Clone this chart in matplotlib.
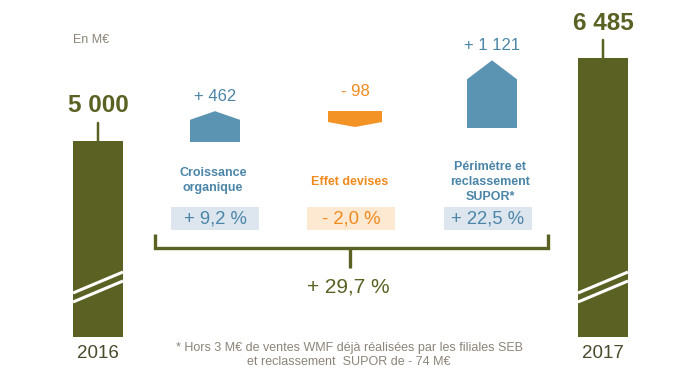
import matplotlib
matplotlib.use("Agg")
import matplotlib.pyplot as plt
from matplotlib.patches import Polygon, Rectangle

plt.rcParams['font.family'] = ['Liberation Sans', 'DejaVu Sans']

# ---- data ----
years = ["2016", "2017"]
totals = [5000, 6485]
step_labels = ["Croissance\norganique", "Effet devises", "Périmètre et\nreclassement\nSUPOR*"]
step_values = [462, -98, 1121]
step_pcts = ["+ 9,2 %", "- 2,0 %", "+ 22,5 %"]
total_growth = "+ 29,7 %"
unit_label = "En M€"
footnote = "* Hors 3 M€ de ventes WMF déjà réalisées par les filiales SEB\net reclassement  SUPOR de - 74 M€"

# ---- styles ----
OLIVE = '#5b6123'
BLUE = '#5b93b3'
BLUE_TXT = '#4b85a8'
ORANGE = '#f39325'
ORANGE_TXT = '#f08a1d'
BLUE_BOX = '#dde6ee'
ORANGE_BOX = '#fde8d2'
GRAY = '#8c8478'
YEAR_TXT = '#4a4a2c'

W, H = 700, 377
fig = plt.figure(figsize=(W / 100, H / 100), dpi=100)

# value axes for the bars (broken bars: base value hidden)
px_per_val = 83 / 1485
a_off = 141 + 5000 * px_per_val
base = (a_off - 337) / px_per_val
axv = fig.add_axes([0, 0, 1, 1])
axv.set_xlim(0, W)
axv.set_ylim((a_off - H) / px_per_val, a_off / px_per_val)
axv.axis('off')

# layout axes in pixel units (on top)
ax = fig.add_axes([0, 0, 1, 1])
ax.set_xlim(0, W)
ax.set_ylim(H, 0)
ax.axis('off')
ax.patch.set_alpha(0)

bar_x = [98, 603]
bars = axv.bar(bar_x, [v - base for v in totals], bottom=base, width=50, color=OLIVE, zorder=2)
for x, v, yl in zip(bar_x, totals, years):
    axv.annotate('', xy=(x, v), xytext=(x, v + 18 / px_per_val),
                 arrowprops=dict(arrowstyle='-', color=OLIVE, lw=1.8, shrinkA=0, shrinkB=0))
    axv.annotate(f"{v:,}".replace(',', ' '), xy=(x, v), xytext=(0, 35),
                 textcoords='offset pixels', ha='center', va='center',
                 fontsize=17.5, fontweight='bold', color=OLIVE)
    ax.text(x, 353, yl, ha='center', va='center', fontsize=13.5, color=YEAR_TXT)

# break marks (white diagonal lines)
for x in bar_x:
    for dy in (0, 9):
        ax.plot([x - 25, x + 25], [293 + dy, 272 + dy], color='white', lw=2.2,
                solid_capstyle='butt', zorder=5)

ax.text(73, 40, unit_label, ha='left', va='center', fontsize=9, color=GRAY)

# step shapes
centers = [215, 355, 492]
anchors = [142, 111, 128]   # bottom for positive, top for negative
widths = [50, 54, 50]
for cx, anc, w, v in zip(centers, anchors, widths, step_values):
    h = max(16, abs(v) * px_per_val + 5)
    tip = 0.28 * h
    hw = w / 2
    if v >= 0:
        pts = [(cx - hw, anc), (cx + hw, anc), (cx + hw, anc - h + tip), (cx, anc - h),
               (cx - hw, anc - h + tip)]
        top = anc - h
        col, tcol = BLUE, BLUE_TXT
        sign = '+ '
    else:
        tip = 0.31 * h
        pts = [(cx - hw, anc), (cx + hw, anc), (cx + hw, anc + h - tip), (cx, anc + h),
               (cx - hw, anc + h - tip)]
        top = anc
        col, tcol = ORANGE, ORANGE_TXT
        sign = '- '
    ax.add_patch(Polygon(pts, closed=True, facecolor=col, edgecolor='none', zorder=3))
    ax.text(cx, top - (19 if v < 0 else 15), sign + f"{abs(v):,}".replace(',', ' '),
            ha='center', va='center', fontsize=12, color=tcol)

# category labels and percentage boxes
lab_x = [213, 350, 490]
lab_y = [180.5, 182, 182]
box_x = [215, 351, 488]
for lx, ly, bx, lab, pct, v in zip(lab_x, lab_y, box_x, step_labels, step_pcts, step_values):
    tcol = BLUE_TXT if v >= 0 else ORANGE_TXT
    bcol = BLUE_BOX if v >= 0 else ORANGE_BOX
    ax.text(lx, ly, lab, ha='center', va='center', fontsize=9, fontweight='bold',
            color=tcol, linespacing=1.35)
    ax.add_patch(Rectangle((bx - 44, 207), 88, 23, facecolor=bcol, edgecolor='none', zorder=1))
    ax.text(bx, 219, pct, ha='center', va='center', fontsize=13.3, color=tcol, zorder=2)

# bracket
ax.plot([155, 155, 548, 548], [234, 248, 248, 234], color=OLIVE, lw=2.4,
        solid_joinstyle='miter', solid_capstyle='butt')
ax.plot([350, 350], [248, 268], color=OLIVE, lw=2.4, solid_capstyle='butt')
ax.text(348, 287, total_growth, ha='center', va='center', fontsize=15, color=OLIVE)

ax.text(349, 355, footnote, ha='center', va='center', fontsize=9, color=GRAY,
        linespacing=1.3)

fig.savefig('out.png', dpi=100)
